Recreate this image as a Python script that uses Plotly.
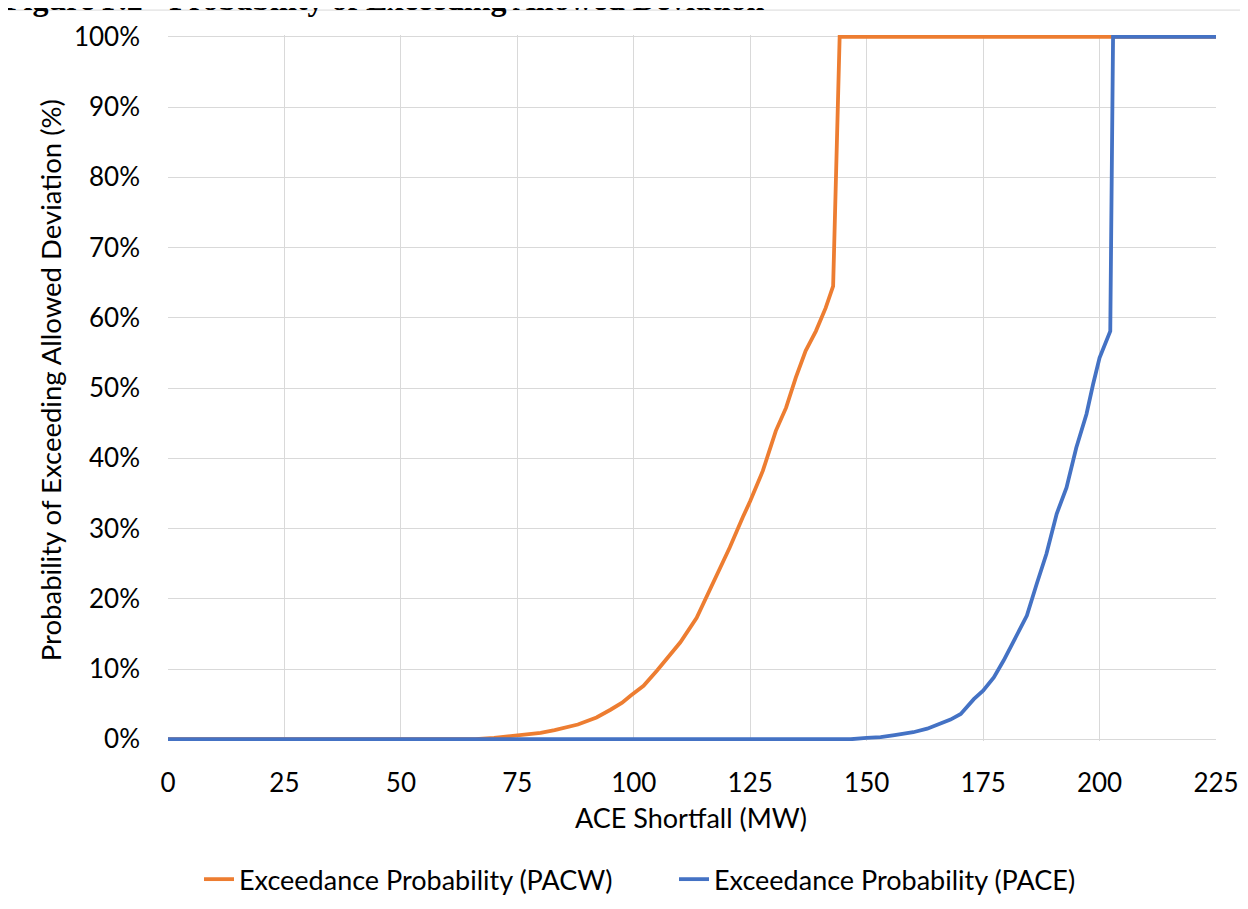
import plotly.graph_objects as go

# ACE shortfall (MW) and exceedance probability (%)
pacw_x = [0, 66, 70, 75, 78, 80, 83, 85, 88, 90, 92, 95, 97.5, 99.3, 102.1, 105, 107.5, 110,
          113.5, 117, 120.6, 123.4, 125, 127.7, 130.5, 132.7, 134.8, 136.9, 139.1, 141.2,
          142.8, 144.2, 225]
pacw_y = [0, 0, 0.2, 0.5, 0.7, 0.9, 1.3, 1.6, 2.1, 2.6, 3.1, 4.2, 5.2, 6.2, 7.6, 9.8, 11.7, 13.8,
          17.3, 22.1, 27.3, 31.6, 33.9, 38.2, 43.9, 47.2, 51.5, 55.3, 58.1, 61.4,
          64.5, 100, 100]

pace_x = [0, 146.6, 150, 153, 156, 160, 163, 165, 168, 170.2, 173, 175, 177.3, 179.4, 181.5,
          184.4, 186.5, 188.6, 190.8, 192.9, 195, 197.2, 198.6, 200, 202.3, 202.9, 225]
pace_y = [0, 0, 0.2, 0.3, 0.6, 1.0, 1.5, 2.0, 2.8, 3.6, 5.7, 6.9, 8.8, 11.2, 14.0,
          17.6, 22.1, 26.4, 32.1, 35.8, 41.5, 46.3, 50.5, 54.3, 58.1, 100, 100]

x_ticks = [0, 25, 50, 75, 100, 125, 150, 175, 200, 225]
y_ticks = [0, 10, 20, 30, 40, 50, 60, 70, 80, 90, 100]
y_tick_labels = [f"{v}%" for v in y_ticks]

series_names = ["Exceedance Probability (PACW)", "Exceedance Probability (PACE)"]
title_text = "Figure P.2 - Probability of Exceeding Allowed Deviation"

FONT = "Lato, 'Liberation Sans Narrow', sans-serif"

fig = go.Figure()
fig.add_trace(go.Scatter(x=pacw_x, y=pacw_y, mode="lines", name=series_names[0],
                         line=dict(color="#ED7D31", width=3.8)))
fig.add_trace(go.Scatter(x=pace_x, y=pace_y, mode="lines", name=series_names[1],
                         line=dict(color="#4472C4", width=3.8)))

fig.update_layout(
    width=1248, height=909,
    margin=dict(l=160, r=40, t=25, b=176),
    paper_bgcolor="white", plot_bgcolor="white",
    font=dict(family=FONT, size=26, color="#000000"),
    showlegend=True,
    legend=dict(orientation="h", x=0.0296, xanchor="left", y=-0.1963, yanchor="middle",
                entrywidth=430, entrywidthmode="pixels",
                font=dict(family=FONT, size=27, color="#000000"),
                bgcolor="rgba(0,0,0,0)"),
    xaxis=dict(range=[0, 225], tickvals=x_ticks, ticktext=[str(v) for v in x_ticks],
               showgrid=True, gridcolor="#D9D9D9", gridwidth=1.3, zeroline=False,
               showline=False, ticks="", ticklabelstandoff=24,
               tickfont=dict(family=FONT, size=26, color="#000000")),
    yaxis=dict(range=[-0.25, 100.25], tickvals=y_ticks, ticktext=y_tick_labels,
               showgrid=True, gridcolor="#D9D9D9", gridwidth=1.3, zeroline=False,
               showline=False, ticks="", ticklabelstandoff=27,
               tickfont=dict(family=FONT, size=26, color="#000000")),
    annotations=[
        dict(text="ACE Shortfall (MW)", xref="paper", yref="paper", x=0.499, y=-0.1088,
             xanchor="center", yanchor="middle", showarrow=False,
             font=dict(family=FONT, size=27, color="#000000")),
        dict(text="Probability of Exceeding Allowed Deviation (%)", xref="paper", yref="paper",
             x=-0.1126, y=0.511, xanchor="center", yanchor="middle", textangle=-90,
             showarrow=False, font=dict(family=FONT, size=27.5, color="#000000")),
        dict(text="<b>" + title_text + "</b>", xref="paper", yref="paper",
             x=-0.158, y=1.051, xanchor="left", yanchor="middle", showarrow=False,
             font=dict(family="'Liberation Serif', 'Times New Roman', serif", size=32,
                       color="#000000")),
    ],
    shapes=[dict(type="rect", xref="paper", yref="paper", x0=-0.1584, y0=-0.5, x1=1.2,
                 y1=1.0353, line=dict(color="#D9D9D9", width=1), fillcolor="rgba(0,0,0,0)",
                 layer="below")],
)

fig.write_html("out.html")
